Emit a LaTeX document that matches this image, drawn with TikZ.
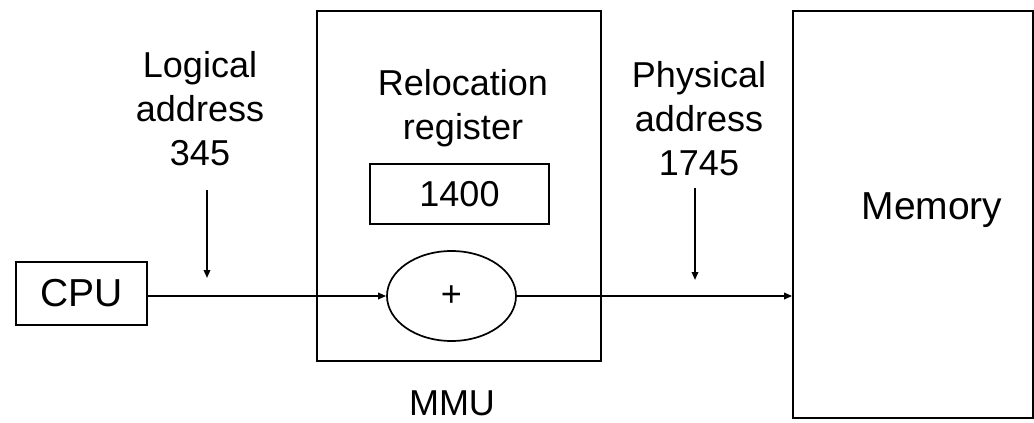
\documentclass[tikz,border=0pt]{standalone}
\usepackage{fontspec}
\setmainfont{Liberation Sans}
\usetikzlibrary{arrows.meta,shapes.geometric}
\begin{document}
\begin{tikzpicture}[x=1pt,y=-1pt,line width=1.7pt,
  >={Triangle[length=8pt,width=6.5pt]},
  txt/.style={font=\fontsize{36}{44}\selectfont,align=center,inner sep=0pt},
  bigtxt/.style={font=\fontsize{39}{46}\selectfont,inner sep=0pt},
  boxnode/.style={draw,inner sep=0pt,minimum width=#1},
  boxnode/.default=10pt]
  \useasboundingbox (0,0) rectangle (1034,423);

  % processor
  \node[boxnode=131pt,minimum height=63pt,bigtxt] (cpu) at (81.5,293.5) {CPU};

  % memory management unit with relocation register and adder
  \node[boxnode=284pt,minimum height=350pt] (mmu) at (459,186) {};
  \node[txt] (reglabel) at (463,108) {Relocation\\register};
  \node[boxnode=179pt,minimum height=60pt,txt] (reg) at (459.5,194) {1400};
  \node[draw,ellipse,inner sep=0pt,minimum width=129pt,minimum height=90pt,txt] (add) at (451.5,296) {+};
  \node[txt] (mmulabel) at (452,403.5) {MMU};

  % main memory
  \node[boxnode=240pt,minimum height=407pt] (mem) at (913,214.5) {};
  \node[bigtxt] (memlabel) at (932,210) {Memory};

  % address labels with their arrows
  \node[txt] (logical) at (200,109) {Logical\\address\\345};
  \coordinate (la) at (207,190);
  \coordinate (lb) at (207,278);
  \draw[->] (la) -- (lb);

  \node[txt] (physical) at (699,118.5) {Physical\\address\\1745};
  \coordinate (pa) at (695,188);
  \coordinate (pb) at (695,280);
  \draw[->] (pa) -- (pb);

  % address path
  \draw[->] (cpu.east |- add.west) -- (add.west);
  \draw[->] (add.east) -- (add.east -| mem.west);
\end{tikzpicture}
\end{document}
